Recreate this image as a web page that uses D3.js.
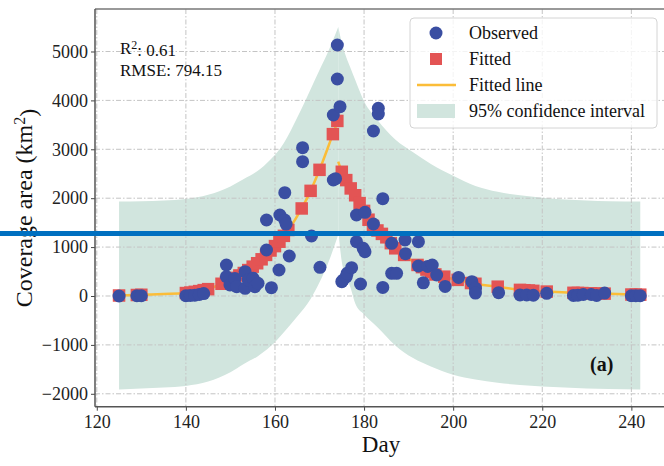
<!DOCTYPE html>
<html>
<head>
<meta charset="utf-8">
<script src="https://cdn.jsdelivr.net/npm/d3@7"></script>
<style>
  body { margin: 0; background: #fff; }
  svg { display: block; font-family: "Liberation Serif", "DejaVu Serif", serif; }
</style>
</head>
<body>
<script>
'use strict';

// tick labels
const xTicks = [120, 140, 160, 180, 200, 220, 240];
const yTicks = [-2000, -1000, 0, 1000, 2000, 3000, 4000, 5000];

// observed points (day, coverage area)
const obsDay = [125, 129, 130, 140, 141, 142, 143, 144,
  149.1, 149.1, 149.9, 151, 151.4, 153.3, 153.3, 154, 155.1, 155.5, 156.2,
  158.1, 158.1, 159.2, 160.9, 161.1, 162.2, 162.5, 162.2, 163.2,
  166.2, 166.2, 168.2, 170.1, 173.1, 173.1, 173.6, 174, 174, 174.6,
  175, 175.3, 176, 176.2, 177.2, 178.3, 178.3, 179.2, 179.8, 180.2, 180.2,
  182.1, 182.1, 183.2, 183.2, 184.2, 184.2, 186.2, 186.2, 187.3,
  189.2, 189.3, 192.2, 192.2, 193.3, 194.3, 195.3, 196.3, 198.2,
  201.2, 204.2, 205, 205, 210.2, 215, 216.5, 218, 221,
  227, 228, 229.2, 231, 232.2, 234, 240, 241, 242];
const obsVal = [0, 5, 5, 5, 10, 15, 30, 50,
  634, 395, 225, 360, 190, 497, 157, 327, 362, 190, 260,
  941, 1554, 170, 532, 1656, 1554, 1470, 2112, 818,
  3033, 2747, 1227, 587, 3701, 2372, 2400, 5133, 4438, 3871,
  292, 327, 395, 464, 580, 1656, 1111, 245, 975, 1711, 906,
  3374, 1472, 3838, 3722, 1990, 175, 1077, 464, 464,
  1145, 865, 1111, 613, 270, 605, 634, 429, 195,
  380, 292, 160, 60, 67, 20, 20, 15, 55,
  10, 15, 30, 30, 10, 60, 5, 5, 5];

// fitted values (squares)
const fitDay = [125, 129, 130, 140, 141, 142, 143, 144, 145,
  148, 149, 150, 151, 152, 153, 154, 155, 156, 157, 158, 159, 160, 161, 162, 163,
  166, 168, 170, 173, 174,
  175, 176, 177, 178, 179, 180, 181, 182, 183, 184, 185, 186, 187, 189,
  192, 193, 194, 195, 196, 198, 201, 204, 205, 210,
  215, 216, 217, 218, 221, 227, 228, 229, 231, 232, 234, 240, 241, 242];
const fitVal = [10, 20, 25, 60, 70, 85, 100, 120, 140,
  250, 290, 330, 370, 420, 470, 530, 600, 670, 750, 840, 930, 1020, 1110, 1230, 1350,
  1790, 2150, 2580, 3310, 3580,
  2540, 2370, 2200, 2060, 1900, 1740, 1560, 1430, 1340, 1270, 1200, 1080, 975, 840,
  635, 590, 540, 490, 440, 395, 330, 265, 250, 190,
  125, 118, 112, 105, 90, 65, 62, 60, 55, 52, 48, 30, 28, 27];

// fitted line, rising and falling branch
const lineLeftDay = [125, 130, 135, 140, 145, 148, 150, 153, 156, 158, 160, 163, 166, 168, 170, 173, 174.2];
const lineLeftVal = [10, 25, 40, 60, 140, 250, 330, 470, 670, 840, 1020, 1350, 1790, 2150, 2580, 3310, 3600];
const lineRightDay = [174.2, 175, 177, 179, 181, 183, 185, 187, 189, 192, 196, 201, 205, 210, 215, 221, 228, 234, 242];
const lineRightVal = [2750, 2540, 2200, 1900, 1560, 1340, 1200, 975, 840, 635, 440, 330, 250, 190, 125, 90, 62, 48, 27];

// 95% confidence band, two branches
const bandLeftDay = [125, 130, 135, 140, 145, 150, 153, 156, 159, 162, 165, 168, 170, 172, 174.2];
const bandLeftUpper = [1930, 1940, 1955, 1985, 2070, 2240, 2390, 2550, 2790, 3130, 3650, 4230, 4620, 5010, 5500];
const bandLeftLower = [-1910, -1890, -1870, -1840, -1750, -1560, -1390, -1240, -1030, -740, -420, -60, 280, 690, 1250];
const bandRightDay = [174.2, 175, 176, 177, 178, 180, 183, 187, 191, 195, 200, 205, 210, 215, 220, 225, 230, 235, 242];
const bandRightUpper = [5500, 5180, 4880, 4650, 4420, 3980, 3600, 3200, 2940, 2700, 2460, 2250, 2130, 2060, 2010, 1975, 1955, 1940, 1930];
const bandRightLower = [1350, 700, 400, 160, -150, -380, -640, -1010, -1270, -1440, -1610, -1710, -1775, -1820, -1850, -1870, -1890, -1900, -1910];

const legendLabels = ["Observed", "Fitted", "Fitted line", "95% confidence interval"];
const r2Text = "0.61";
const rmseText = "794.15";

(function() {

  const width = 664, height = 466;
  const left = 95, right = 667, top = 9, bottom = 406.7;

  const colObs = "#3a4ea2";
  const colFit = "#e35454";
  const colLine = "#fbbd38";
  const colBand = "#d1e5de";

  window.onload = function() {
    let svg = d3.select('body').append('svg')
      .attr('width', width)
      .attr('height', height);

    let x = d3.scaleLinear().domain([119.6, 248]).range([left, right]);
    let y = d3.scaleLinear().domain([-2264, 5869]).range([bottom, top]);

    // confidence band
    let area = d3.area()
      .x((d) => x(d[0]))
      .y0((d) => y(d[2]))
      .y1((d) => y(d[1]))
      .curve(d3.curveMonotoneX);
    let bandL = bandLeftDay.map((d, i) => [d, bandLeftUpper[i], bandLeftLower[i]]);
    let bandR = bandRightDay.map((d, i) => [d, bandRightUpper[i], bandRightLower[i]]);
    [bandL, bandR].forEach(function(b) {
      svg.append('path')
        .attr('d', area(b))
        .attr('fill', colBand);
    });

    // grid
    let grid = svg.append('g')
      .attr('stroke', '#c4c4c4')
      .attr('stroke-width', 1)
      .attr('stroke-dasharray', '5,2,1.5,2');
    xTicks.forEach(function(t) {
      grid.append('line').attr('x1', x(t)).attr('x2', x(t)).attr('y1', top).attr('y2', bottom);
    });
    yTicks.forEach(function(t) {
      grid.append('line').attr('x1', left).attr('x2', right).attr('y1', y(t)).attr('y2', y(t));
    });

    // fitted line
    let line = d3.line()
      .x((d) => x(d[0]))
      .y((d) => y(d[1]))
      .curve(d3.curveMonotoneX);
    let lineL = lineLeftDay.map((d, i) => [d, lineLeftVal[i]]);
    let lineR = lineRightDay.map((d, i) => [d, lineRightVal[i]]);
    [lineL, lineR].forEach(function(l) {
      svg.append('path')
        .attr('d', line(l))
        .attr('fill', 'none')
        .attr('stroke', colLine)
        .attr('stroke-width', 2.5);
    });

    // fitted squares
    const sq = 12.5;
    svg.append('g').selectAll('rect')
      .data(fitDay)
      .enter()
      .append('rect')
        .attr('x', (d) => x(d) - sq / 2)
        .attr('y', (d, i) => y(fitVal[i]) - sq / 2)
        .attr('width', sq)
        .attr('height', sq)
        .attr('fill', colFit);

    // observed circles
    svg.append('g').selectAll('circle')
      .data(obsDay)
      .enter()
      .append('circle')
        .attr('cx', (d) => x(d))
        .attr('cy', (d, i) => y(obsVal[i]))
        .attr('r', 6.5)
        .attr('fill', colObs);

    // axes
    let xAxis = d3.axisBottom(x).tickValues(xTicks).tickSize(4).tickPadding(3);
    let gx = svg.append('g')
      .attr('transform', 'translate(0,' + bottom + ')')
      .call(xAxis);
    let yAxis = d3.axisLeft(y).tickValues(yTicks).tickSize(4).tickPadding(3)
      .tickFormat((d) => d < 0 ? '\u2212' + Math.abs(d) : '' + d);
    let gy = svg.append('g')
      .attr('transform', 'translate(' + left + ',0)')
      .call(yAxis);
    [gx, gy].forEach(function(g) {
      g.select('.domain').remove();
      g.selectAll('text')
        .attr('fill', '#222')
        .style('font-size', '18px')
        .style('font-family', '"Liberation Serif", serif');
      g.selectAll('line').attr('stroke', '#444');
    });
    gx.selectAll('text').attr('dy', '0.8em');

    // spines
    svg.append('line').attr('x1', left).attr('x2', right).attr('y1', top).attr('y2', top)
      .attr('stroke', '#777').attr('stroke-width', 1.5);
    svg.append('line').attr('x1', left).attr('x2', left).attr('y1', top).attr('y2', bottom)
      .attr('stroke', '#555').attr('stroke-width', 1.5);
    svg.append('line').attr('x1', left).attr('x2', right).attr('y1', bottom).attr('y2', bottom)
      .attr('stroke', '#555').attr('stroke-width', 1.5);

    // axis labels
    svg.append('text')
      .attr('x', (left + right) / 2)
      .attr('y', 452)
      .attr('text-anchor', 'middle')
      .style('font-size', '23px')
      .attr('fill', '#111')
      .text('Day');

    let yl = svg.append('text')
      .attr('transform', 'translate(32, 208)rotate(-90)')
      .attr('text-anchor', 'middle')
      .style('font-size', '24px')
      .attr('fill', '#111');
    yl.append('tspan').text('Coverage area (km');
    yl.append('tspan').attr('dy', '-0.45em').style('font-size', '16px').text('2');
    yl.append('tspan').attr('dy', '0.45em').text(')');

    // stats text
    let st = svg.append('text')
      .attr('x', 120)
      .attr('y', 54)
      .style('font-size', '17px')
      .attr('fill', '#111');
    st.append('tspan').text('R');
    st.append('tspan').attr('dy', '-0.45em').style('font-size', '12px').text('2');
    st.append('tspan').attr('dy', '0.45em').text(': ' + r2Text);
    svg.append('text')
      .attr('x', 120)
      .attr('y', 76)
      .style('font-size', '17px')
      .attr('fill', '#111')
      .text('RMSE: ' + rmseText);

    // panel tag
    svg.append('text')
      .attr('x', 590)
      .attr('y', 371)
      .style('font-size', '20px')
      .style('font-weight', 'bold')
      .attr('fill', '#111')
      .text('(a)');

    // legend
    let lg = svg.append('g');
    lg.append('rect')
      .attr('x', 410).attr('y', 18)
      .attr('width', 247).attr('height', 110)
      .attr('rx', 4)
      .attr('fill', 'white').attr('fill-opacity', 0.8)
      .attr('stroke', '#d4d4d4');
    legendLabels.forEach(function(label, i) {
      let cy = 33 + i * 26;
      if (i === 0) {
        lg.append('circle').attr('cx', 436).attr('cy', cy).attr('r', 6.5).attr('fill', colObs);
      } else if (i === 1) {
        lg.append('rect').attr('x', 430).attr('y', cy - 6).attr('width', 12).attr('height', 12).attr('fill', colFit);
      } else if (i === 2) {
        lg.append('line').attr('x1', 417).attr('x2', 456).attr('y1', cy).attr('y2', cy)
          .attr('stroke', colLine).attr('stroke-width', 2.5);
      } else {
        lg.append('rect').attr('x', 417).attr('y', cy - 7).attr('width', 38).attr('height', 14).attr('fill', colBand);
      }
      lg.append('text')
        .attr('x', 469)
        .attr('y', cy + 6)
        .style('font-size', '18px')
        .attr('fill', '#111')
        .text(label);
    });

    // blue marker bar across the picture
    svg.append('rect')
      .attr('x', 0).attr('y', 231)
      .attr('width', width).attr('height', 5)
      .attr('fill', '#0070c0');
  };
})();
</script>
</body>
</html>
